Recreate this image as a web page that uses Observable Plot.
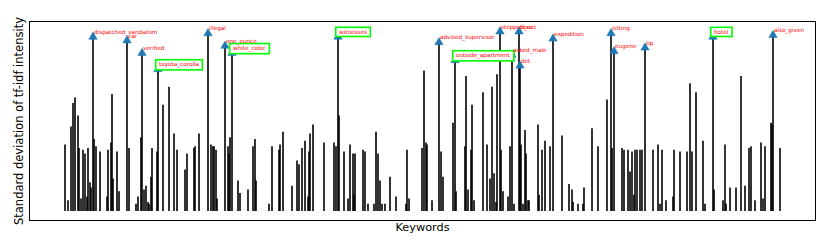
<!DOCTYPE html>
<html>
<head>
<meta charset="utf-8">
<script src="https://cdn.jsdelivr.net/npm/d3@7"></script>
<script src="https://cdn.jsdelivr.net/npm/@observablehq/plot@0.6"></script>
<style>
  html, body { margin: 0; padding: 0; background: #fff; }
  #chart svg { display: block; }
</style>
</head>
<body>
<div id="chart"></div>
<script>
// Keyword positions (index along the keyword axis) and std. deviation of tf-idf intensity
const barIndex = [0,3,6,8,10,13,14,16,18,20,22,23,25,26,29,31,35,42,43,46,47,48,52,54,64,71,73,76,79,81,83,84,86,87,92,98,104,109,112,120,122,129,130,134,
  146,148,149,151,152,163,164,165,173,175,183,188,190,191,204,207,214,215,218,227,232,234,237,240,243,244,245,248,259,269,271,274,279,283,285,288,289,290,298,300,303,309,311,313,315,317,320,325,331,341,342,344,357,359,361,362,367,376,378,388,391,400,401,403,406,407,409,418,422,425,427,429,431,432,436,438,443,445,449,456,458,460,461,463,464,473,474,477,480,485,497,504,507,508,513,518,519,527,533,542,547,557,559,563,565,567,569,570,572,575,577,588,593,595,597,601,608,609,615,622,625,627,631,638,640,649,658,660,661,665,671,676,680,684,686,690,696,698,700,706,707,715];
const barHeight = [0.37,0.06,0.47,0.60,0.63,0.53,0.35,0.07,0.34,0.32,0.08,0.35,0.16,0.13,0.40,0.36,0.33,0.08,0.34,0.38,0.65,0.18,0.33,0.11,0.35,0.04,0.08,0.41,0.12,0.14,0.05,0.04,0.19,0.35,0.33,0.59,0.69,0.43,0.34,0.23,0.32,0.35,0.36,0.43,
  0.37,0.36,0.36,0.34,0.07,0.36,0.32,0.41,0.17,0.10,0.12,0.36,0.40,0.17,0.04,0.36,0.34,0.37,0.44,0.14,0.28,0.26,0.35,0.39,0.08,0.33,0.43,0.48,0.38,0.38,0.36,0.53,0.33,0.07,0.37,0.32,0.09,0.32,0.34,0.33,0.04,0.04,0.44,0.32,0.17,0.04,0.04,0.19,0.08,0.04,0.34,0.07,0.35,0.78,0.38,0.37,0.06,0.33,0.19,0.49,0.11,0.36,0.75,0.12,0.34,0.59,0.06,0.66,0.37,0.18,0.69,0.21,0.05,0.76,0.34,0.11,0.08,0.36,0.04,0.37,0.04,0.45,0.32,0.06,0.06,0.48,0.09,0.34,0.39,0.36,0.42,0.15,0.12,0.05,0.04,0.04,0.13,0.46,0.36,0.62,0.35,0.35,0.34,0.34,0.22,0.33,0.09,0.34,0.34,0.34,0.34,0.34,0.37,0.04,0.34,0.06,0.08,0.34,0.33,0.33,0.71,0.33,0.66,0.39,0.04,0.12,0.06,0.37,0.04,0.13,0.13,0.75,0.14,0.35,0.36,0.06,0.38,0.07,0.36,0.49,0.48,0.35];

// Highlighted (top) keywords
const topKeywords = ["dispatched_vandalism","car","verified","toyota_corolla","illegal","one_ounce","white_color","witnesses","advised_supervisor","outside_apartment","stepped_out","asked_male","hour","det","expedition","sitting","eugene","tip","hotel","also_given"];
const topIndex = [28,62,77,93,143,160,167,273,374,390,435,447,454,455,488,546,549,580,648,708];
const topHeight = [0.97,0.95,0.88,0.79,0.99,0.92,0.88,0.97,0.94,0.84,1.00,0.87,1.00,0.81,0.96,0.99,0.89,0.91,0.97,0.98];
const boxedKeywords = ["toyota_corolla","white_color","witnesses","outside_apartment","hotel"];

const xLabel = "Keywords";
const yLabel = "Standard deviation of tf-idf intensity";

const bars = barIndex.map((i, k) => ({i, h: barHeight[k]}));
const tops = topKeywords.map((name, k) => ({name, i: topIndex[k], h: topHeight[k]}));

const chart = Plot.plot({
  width: 830,
  height: 249,
  marginLeft: 29,
  marginRight: 15,
  marginTop: 21,
  marginBottom: 29,
  style: {fontFamily: "DejaVu Sans", background: "#fff"},
  x: {domain: [-35.5, 750.5], axis: null},
  y: {domain: [-0.05, 1.0556], axis: null},
  marks: [
    Plot.ruleX(bars, {x: "i", y1: 0, y2: "h", stroke: "black", strokeWidth: 1.6}),
    Plot.ruleX(tops, {x: "i", y1: 0, y2: "h", stroke: "black", strokeWidth: 1.6}),
    Plot.dot(tops, {x: "i", y: "h", symbol: "triangle", r: 3.1, fill: "#1f77b4", stroke: "#1f77b4", strokeWidth: 0.5}),
    Plot.frame({stroke: "black", strokeWidth: 1}),
    Plot.text(tops, {x: "i", y: "h", text: "name", fill: "red", fontSize: 5.7, textAnchor: "start", lineAnchor: "bottom", dx: 1, dy: -3}),
    Plot.text([xLabel], {text: d => d, frameAnchor: "bottom", textAnchor: "middle", dy: 10, fontSize: 11.3, fill: "black"}),
    Plot.text([yLabel], {text: d => d, frameAnchor: "left", textAnchor: "middle", rotate: -90, dx: -10.5, fontSize: 11.5, fill: "black"})
  ]
});

document.getElementById("chart").appendChild(chart);

// Green boxes around the selected keyword labels (sized from the rendered text)
const svgNS = "http://www.w3.org/2000/svg";
chart.querySelectorAll("text").forEach(t => {
  if (!boxedKeywords.includes(t.textContent)) return;
  const b = t.getBBox();
  const padX = 3.3, padY = 1.6;
  const r = document.createElementNS(svgNS, "rect");
  r.setAttribute("x", b.x - padX);
  r.setAttribute("y", b.y - padY);
  r.setAttribute("width", b.width + 2 * padX);
  r.setAttribute("height", b.height + 2 * padY);
  r.setAttribute("fill", "white");
  r.setAttribute("stroke", "#00ff00");
  r.setAttribute("stroke-width", 1.6);
  const tr = t.getAttribute("transform");
  if (tr) r.setAttribute("transform", tr);
  const parent = t.parentNode;
  parent.insertBefore(r, parent.firstChild);
});
</script>
</body>
</html>
